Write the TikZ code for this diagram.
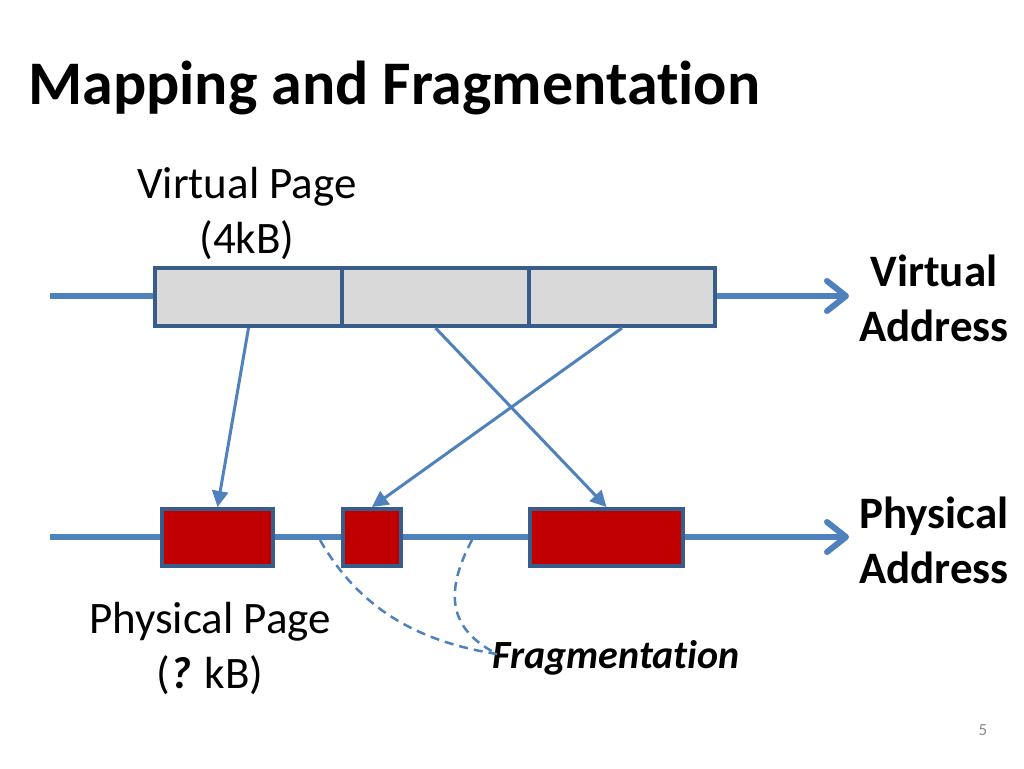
\documentclass[tikz,border=0pt]{standalone}
\usepackage{fontspec}
\setmainfont{Carlito}[Ligatures=NoCommon]
\usetikzlibrary{arrows.meta}
\definecolor{axisblue}{HTML}{4F81BD}
\definecolor{boxline}{HTML}{385D8A}
\definecolor{pagegray}{HTML}{D9D9D9}
\definecolor{pagered}{HTML}{C00000}
\definecolor{numgray}{HTML}{8C8C8C}
\begin{document}
\begin{tikzpicture}[x={(1pt,0)},y={(0,-1pt)},
  vpage/.style={draw=boxline,fill=pagegray,line width=4pt,minimum height=58pt,inner sep=0pt},
  ppage/.style={draw=boxline,fill=pagered,line width=4pt,minimum height=57pt,inner sep=0pt},
  axis/.style={draw=axisblue,line width=6pt,-{Straight Barb[length=19pt,width=30pt,round]}},
  maparrow/.style={draw=axisblue,line width=3pt,-{Triangle[length=16pt,width=16pt]}},
  fragline/.style={draw=axisblue,line width=2.5pt,dash pattern=on 9pt off 6pt},
  body/.style={font=\fontsize{45}{55}\selectfont,align=center,inner sep=0pt},
  bodybold/.style={font=\fontsize{45}{55}\selectfont\bfseries,align=center,inner sep=0pt}]
\useasboundingbox (0,0) rectangle (1024,768);
\fill[white] (0,0) rectangle (1024,768);
% title
\node[anchor=base west,inner sep=0pt,font=\fontsize{62}{75}\selectfont\bfseries] (title) at (28,104) {Mapping and Fragmentation};
% axes
\coordinate (va0) at (50,296);
\coordinate (va1) at (849,296);
\coordinate (pa0) at (50,537);
\coordinate (pa1) at (849,537);
\draw[axis] (va0) -- (va1);
\draw[axis] (pa0) -- (pa1);
% virtual pages
\node[vpage,minimum width=187pt] (v1) at (248.5,297) {};
\node[vpage,minimum width=187pt] (v2) at (435.5,297) {};
\node[vpage,minimum width=186pt] (v3) at (622,297) {};
% physical pages
\node[ppage,minimum width=111pt] (p1) at (217.5,537.5) {};
\node[ppage,minimum width=58pt] (p2) at (372,537.5) {};
\node[ppage,minimum width=153pt] (p3) at (606.5,537.5) {};
% mapping arrows
\draw[maparrow] (v1.south) -- (p1.north);
\draw[maparrow] (v2.south) -- (p3.north);
\draw[maparrow] (v3.south) -- (p2.north);
% labels
\node[body] (vplabel) at (247,213) {Virtual Page\\(4kB)};
\node[bodybold] (valabel) at (934,298) {Virtual\\Address};
\node[bodybold] (palabel) at (934,540) {Physical\\Address};
\node[body] (pplabel) at (210,648) {Physical Page\\(\textbf{\textit{?}} kB)};
\node[inner sep=0pt,font=\fontsize{40}{48}\selectfont\bfseries\itshape] (frag) at (616,658) {Fragmentation};
% fragmentation dashed curves
\coordinate (f1) at (320,540);
\coordinate (f2) at (472,540);
\coordinate (ft) at (497,654);
\draw[fragline] (f1) .. controls (360,610) and (420,642) .. (ft);
\draw[fragline] (f2) .. controls (440,600) and (455,632) .. (ft);
% page number
\node[inner sep=0pt,text=numgray,font=\fontsize{17}{20}\selectfont] (pnum) at (983,730) {5};
\end{tikzpicture}
\end{document}
